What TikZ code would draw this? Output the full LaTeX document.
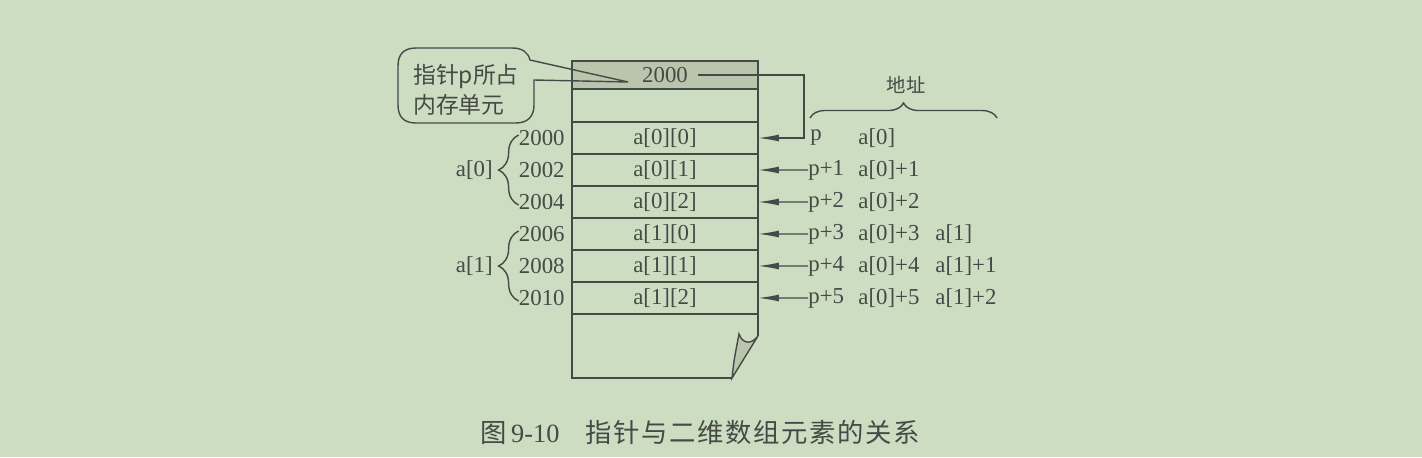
\documentclass[tikz,border=0pt]{standalone}
\usepackage{fontspec}
\setmainfont{Liberation Serif}
\newfontfamily\cjk{Noto Sans CJK SC}
\newfontfamily\cjkcap[LetterSpace=6]{Noto Sans CJK SC}
\usetikzlibrary{arrows.meta,positioning,decorations.pathreplacing}
\definecolor{paper}{RGB}{204,221,194}
\definecolor{ink}{RGB}{70,74,70}
\definecolor{shade}{RGB}{186,197,174}

\begin{document}
\begin{tikzpicture}
[
x=0.02cm, y=-0.02cm,
mem/.style={draw=ink, line width=0.8pt},
cell/.style={rectangle, draw=ink, line width=0.8pt, minimum width=3.72cm, minimum height=0.64cm, inner sep=0pt, outer sep=0pt, node distance=0.64cm, text=ink, font=\fontsize{13}{15}\selectfont},
addr/.style={anchor=east, inner sep=0pt, text=ink, font=\fontsize{13}{15}\selectfont},
lab/.style={anchor=west, inner sep=0pt, text=ink, font=\fontsize{13}{15}\selectfont},
ptr/.style={draw=ink, line width=0.8pt, -{Latex[length=0.42cm,width=0.14cm]}},
brc/.style={draw=ink, line width=0.8pt, decorate, decoration={brace, amplitude=0.4cm}}
]
\fill[paper] (0,0) rectangle (1422,457);
\useasboundingbox (0,0) rectangle (1422,457);

%Nodes
\node[cell, fill=shade, minimum height=0.56cm] (top)  at (665,75) {};
\node[cell, minimum height=0.66cm, below of=top, node distance=0.61cm] (gap) {};
\node[cell, below of=gap, node distance=0.65cm] (e00) {a[0][0]};
\node[cell, below of=e00] (e01) {a[0][1]};
\node[cell, below of=e01] (e02) {a[0][2]};
\node[cell, below of=e02] (e10) {a[1][0]};
\node[cell, below of=e10] (e11) {a[1][1]};
\node[cell, below of=e11] (e12) {a[1][2]};
\node[addr, anchor=center, inner sep=0.2cm] (pval) at (top) {2000};

\node[addr] (n2000) at (565,138) {2000};
\node[addr] (n2002) at (565,170) {2002};
\node[addr] (n2004) at (565,202) {2004};
\node[addr] (n2006) at (565,234) {2006};
\node[addr] (n2008) at (565,266) {2008};
\node[addr] (n2010) at (565,298) {2010};
\node[addr] (row0) at (493,170) {a[0]};
\node[addr] (row1) at (493,266) {a[1]};

\node[lab] (p0) at (810,138) {p};
\node[lab] (p1) at (808,170) {p+1};
\node[lab] (p2) at (808,202) {p+2};
\node[lab] (p3) at (808,234) {p+3};
\node[lab] (p4) at (808,266) {p+4};
\node[lab] (p5) at (808,298) {p+5};
\node[lab] (q0) at (858,138) {a[0]};
\node[lab] (q1) at (858,170) {a[0]+1};
\node[lab] (q2) at (858,202) {a[0]+2};
\node[lab] (q3) at (858,234) {a[0]+3};
\node[lab] (q4) at (858,266) {a[0]+4};
\node[lab] (q5) at (858,298) {a[0]+5};
\node[lab] (r3) at (935,234) {a[1]};
\node[lab] (r4) at (935,266) {a[1]+1};
\node[lab] (r5) at (935,298) {a[1]+2};
\node[text=ink, font=\cjk\fontsize{11}{13}\selectfont] (head) at (906,85) {地址};
\coordinate (hl) at (810,118);
\coordinate (hr) at (997,118);

\node[text=ink, align=left, font=\cjk\fontsize{13}{17}\selectfont] (note) at (466,90) {指针p所占\\内存单元};

\node[text=ink, font=\fontsize{15}{18}\selectfont] (cap) at (700,432) {{\cjkcap 图}\,9-10\quad{\cjkcap 指针与二维数组元素的关系}};

%Lines
\coordinate (turn) at (804,75);
\draw[ptr] (pval.east) -- (turn) |- (e00.east);
\draw[ptr] (p1.west) -- (e01.east);
\draw[ptr] (p2.west) -- (e02.east);
\draw[ptr] (p3.west) -- (e10.east);
\draw[ptr] (p4.west) -- (e11.east);
\draw[ptr] (p5.west) -- (e12.east);

\draw[brc] ([yshift=-0.06cm]n2004.west) -- ([yshift=0.06cm]n2000.west);
\draw[brc] ([yshift=-0.06cm]n2010.west) -- ([yshift=0.06cm]n2006.west);
\draw[brc, decoration={brace, amplitude=0.3cm}] (hl) -- (hr);

% bubble
\draw[mem] (628,82) -- (534,80) -- (534,105) .. controls (534,116) and (528,123) .. (516,123) -- (416,123) .. controls (404,123) and (398,117) .. (398,105) -- (398,66) .. controls (398,54) and (404,48) .. (416,48) -- (512,48) .. controls (522,48) and (528,52) .. (530,60) -- cycle;

% bottom of the page, curled corner
\draw[mem] (e12.south west) -- ++(0,64) -- ++(160,0) coordinate (tip);
\draw[mem] (e12.south east) -- ++(0,22) coordinate (fr);
\draw[mem, fill=shade] (fr) -- (tip) .. controls (734,360) .. (739,334) .. controls (743,345) and (752,344) .. (fr);

\end{tikzpicture}
\end{document}
